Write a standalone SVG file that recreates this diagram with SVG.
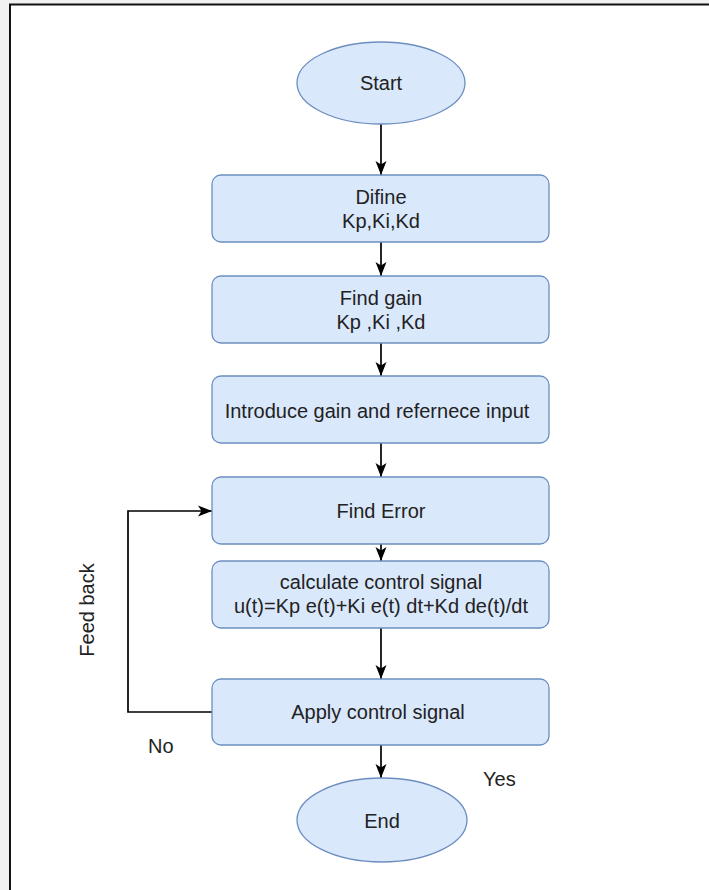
<svg xmlns="http://www.w3.org/2000/svg" width="709" height="890" viewBox="0 0 709 890">
<style>
.box{fill:#dae8fc;stroke:#6c8ebf;stroke-width:1.3}
.t{font-family:"Liberation Sans",Arial,sans-serif;font-size:20px;fill:#222;text-anchor:middle}
.l{font-family:"Liberation Sans",Arial,sans-serif;font-size:20px;fill:#222}
.c{fill:none;stroke:#000;stroke-width:1.7}
</style>
<defs>
<marker id="ah" markerUnits="userSpaceOnUse" markerWidth="16" markerHeight="16" viewBox="0 0 16 16" refX="15" refY="8" orient="auto">
<path d="M1,2.5 L15,8 L1,13.5 L4.5,8 Z" fill="#000"/>
</marker>
</defs>
<rect x="0" y="0" width="709" height="890" fill="#f1f1f1"/>
<rect x="10" y="5" width="699" height="885" fill="#fff"/>
<path d="M10,890 V4.5 H709" fill="none" stroke="#111" stroke-width="2"/>
<g id="connectors">
<path class="c" d="M381,124 V175" marker-end="url(#ah)"/>
<path class="c" d="M381,242 V276" marker-end="url(#ah)"/>
<path class="c" d="M381,343 V376" marker-end="url(#ah)"/>
<path class="c" d="M381,443 V477" marker-end="url(#ah)"/>
<path class="c" d="M381,544 V561" marker-end="url(#ah)"/>
<path class="c" d="M381,628 V679" marker-end="url(#ah)"/>
<path class="c" d="M381,745 V778" marker-end="url(#ah)"/>
<path class="c" d="M212,712 H128 V511 H212" marker-end="url(#ah)"/>
</g>
<g id="start">
<ellipse class="box" cx="381" cy="83" rx="84" ry="41"/>
<text class="t" x="381" y="90">Start</text>
</g>
<g id="define">
<rect class="box" x="212" y="175" width="337" height="67" rx="9"/>
<text class="t" x="381" y="204">Difine</text>
<text class="t" x="381" y="228">Kp,Ki,Kd</text>
</g>
<g id="findgain">
<rect class="box" x="212" y="276" width="337" height="67" rx="9"/>
<text class="t" x="381" y="305">Find gain</text>
<text class="t" x="381" y="329">Kp ,Ki ,Kd</text>
</g>
<g id="introduce">
<rect class="box" x="212" y="376" width="337" height="67" rx="9"/>
<text class="t" x="377" y="418">Introduce gain and refernece input</text>
</g>
<g id="finderror">
<rect class="box" x="212" y="477" width="337" height="67" rx="9"/>
<text class="t" x="381" y="518">Find Error</text>
</g>
<g id="calculate">
<rect class="box" x="212" y="561" width="337" height="67" rx="9"/>
<text class="t" x="381" y="589">calculate control signal</text>
<text class="t" x="381" y="613">u(t)=Kp e(t)+Ki e(t) dt+Kd de(t)/dt</text>
</g>
<g id="apply">
<rect class="box" x="212" y="679" width="337" height="66" rx="9"/>
<text class="t" x="378" y="719">Apply control signal</text>
</g>
<g id="end">
<ellipse class="box" cx="382" cy="820" rx="85" ry="42"/>
<text class="t" x="382" y="828">End</text>
</g>
<g id="labels">
<text class="t" transform="translate(94,610) rotate(-90)">Feed back</text>
<text class="l" x="148" y="753">No</text>
<text class="l" x="483" y="786">Yes</text>
</g>
</svg>
